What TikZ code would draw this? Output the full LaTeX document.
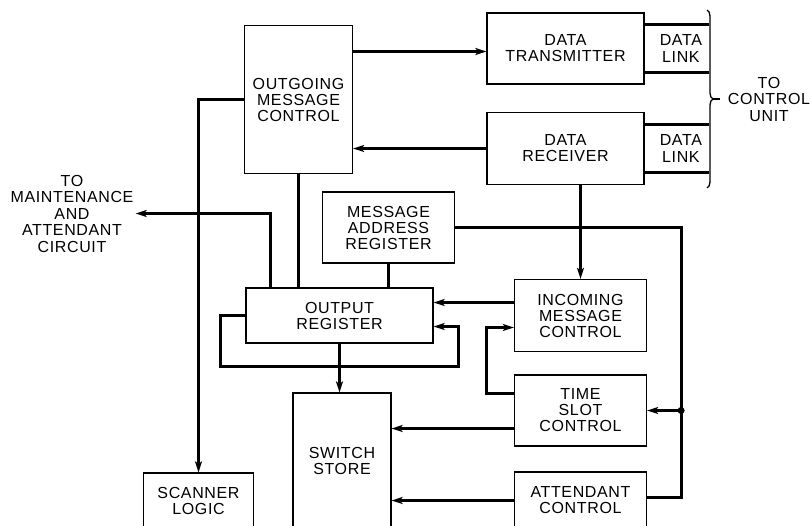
\documentclass[tikz,border=0pt]{standalone}
\usepackage{fontspec}
\setmainfont{Liberation Sans}[LetterSpace=4]
\usetikzlibrary{calc,positioning,decorations.pathreplacing,arrows.meta}

\begin{document}
\begin{tikzpicture}[x=1pt, y=-1pt, >={Stealth[length=11pt,width=7pt,inset=2.5pt]},
  blk/.style={draw, line width=1.2pt, align=center, inner sep=0pt,
    font=\fontsize{16}{16}\selectfont},
  lbl/.style={align=center, inner sep=2pt, font=\fontsize{16}{16.5}\selectfont},
  wire/.style={line width=3pt}]
\useasboundingbox (0,0) rectangle (811,525);
\clip (0,0) rectangle (811,525);
% blocks
\node[blk, minimum width=108pt, minimum height=148pt] (omc) at (298.5,99.5) {OUTGOING\\MESSAGE\\CONTROL};
\node[blk, minimum width=157pt, minimum height=71pt] (dtx) at (565.5,48.5) {DATA\\TRANSMITTER};
\node[blk, minimum width=157pt, minimum height=72pt] (drx) at (565.5,148.5) {DATA\\RECEIVER};
\node[blk, minimum width=132pt, minimum height=71pt] (mar) at (388.5,227.5) {MESSAGE\\ADDRESS\\REGISTER};
\node[blk, minimum width=187pt, minimum height=55pt] (outr) at (339.5,315.5) {OUTPUT\\REGISTER};
\node[blk, minimum width=132pt, minimum height=72pt] (imc) at (580.5,315.5) {INCOMING\\MESSAGE\\CONTROL};
\node[blk, minimum width=132pt, minimum height=71pt] (tsc) at (580.5,410.5) {TIME\\SLOT\\CONTROL};
\node[blk, minimum width=132pt, minimum height=57pt] (att) at (580.5,500.5) {ATTENDANT\\CONTROL};
\node[blk, minimum width=98pt, minimum height=136pt] (sw) at (342,461) {SWITCH\\STORE};
\node[blk, minimum width=110pt, minimum height=56pt] (scan) at (198.5,501) {SCANNER\\LOGIC};
% labels
\node[lbl, right=13pt of dtx.east] (lnk1) {DATA\\LINK};
\node[lbl, right=13pt of drx.east] (lnk2) {DATA\\LINK};
\node[lbl] (maint) at (72,213.5) {TO\\MAINTENANCE\\AND\\ATTENDANT\\CIRCUIT};
\node[lbl] (ctl) at (769,99) {TO\\CONTROL\\UNIT};
% data links and brace
\foreach \b in {dtx,drx} \foreach \s in {24,-24}
  \draw[wire] ([yshift=\s pt]\b.east) -- ++(64,0);
\draw[line width=1.3pt, decorate, decoration={brace, amplitude=6pt}] (707,10) -- (707,188);
\draw[line width=1.3pt] (713,99) -- (720,99);
% connectors
\draw[wire,->] ([yshift=-3pt]dtx.west -| omc.east) -- ([yshift=-3pt]dtx.west);
\draw[wire,->] (drx.west) -- (drx.west -| omc.east);
\draw[wire,->] (omc.west) -| (scan.north);
\draw[wire] (omc.south) -- (omc.south |- outr.north);
\draw[wire] (mar.south) -- (mar.south |- outr.north);
\draw[wire,->] ([xshift=25.5pt]outr.north west) |- (maint);
\draw[wire,->] (outr.south) -- (outr.south |- sw.north);
\draw[wire,->] (outr.west) -- ++(-24.5,0) -- ++(0,51) -- ++(238,0) |- ([yshift=-11pt]outr.east);
\draw[wire,->] (drx.south -| imc.north) -- (imc.north);
\draw[wire,->] ([yshift=13pt]imc.west) -- ([yshift=13pt]imc.west -| outr.east);
\draw[wire,->] ([yshift=17pt]tsc.west) -- ++(-27,0) |- ([yshift=-12pt]imc.west);
\draw[wire,->] ([yshift=-18pt]tsc.west) -- ([yshift=-18pt]tsc.west -| sw.east);
\draw[wire,->] (att.west) -- (att.west -| sw.east);
\coordinate (j) at ([xshift=34pt]tsc.east);
\draw[wire] (mar.east) -| (j) |- ([yshift=3pt]att.east);
\draw[wire,->] (j) -- (tsc.east);
\fill (j) circle (3.5pt);
\end{tikzpicture}
\end{document}
